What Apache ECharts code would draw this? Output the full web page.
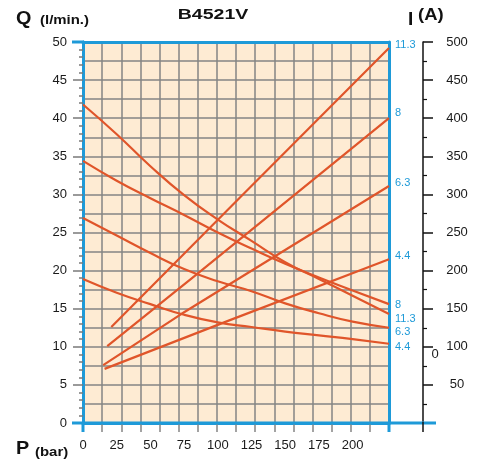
<!DOCTYPE html>
<html>
<head>
<meta charset="utf-8">
<script src="https://cdn.jsdelivr.net/npm/echarts@6/dist/echarts.min.js"></script>
<style>
html, body { margin: 0; padding: 0; background: #fff; }
#chart { width: 484px; height: 464px; }
</style>
</head>
<body>
<div id="chart"></div>
<script>
// flow curves Q (l/min) against pressure P (bar)
const pressure = [0, 25, 50, 75, 100, 125, 150, 175, 200, 227];
const flow113 = [41.8, 37.9, 33.7, 29.9, 26.7, 23.9, 21.1, 18.9, 16.7, 14.3];
const flow8 = [34.4, 31.8, 29.5, 27.3, 25.0, 22.9, 20.9, 19.1, 17.4, 15.6];
const flow63 = [26.9, 24.6, 22.3, 20.2, 18.6, 17.3, 15.7, 14.4, 13.3, 12.5];
const flow44 = [18.9, 17.1, 15.6, 14.2, 13.2, 12.6, 12.0, 11.5, 11.0, 10.4];

// current curves I (A) as [P, I]
const current113 = [[21, 126], [117, 297], [227, 492]];
const current8 = [[18, 101], [85, 196], [227, 400]];
const current63 = [[15, 76], [72, 142], [227, 311]];
const current44 = [[16, 71], [109, 135], [227, 215]];

const curveLabels = ['11.3', '8', '6.3', '4.4'];

const BLUE = '#1e9ad8';
const RED = '#e0552a';
const GRIDC = '#858585';
const FONT = 'Liberation Sans, Arial, sans-serif';

const chart = echarts.init(document.getElementById('chart'));

function curve(name, data, yIdx, dy) {
    return {
        name: name,
        type: 'line',
        xAxisIndex: 0,
        yAxisIndex: yIdx,
        data: data,
        smooth: yIdx === 0,
        symbol: 'none',
        lineStyle: { color: RED, width: 2.2 },
        z: 3,
        endLabel: {
            show: true,
            formatter: name,
            color: BLUE,
            fontSize: 11,
            fontFamily: FONT,
            distance: 6,
            offset: [0, dy]
        }
    };
}

const pairs = arr => pressure.map((p, i) => [p, arr[i]]);

function label(text, x, y, size, sx, align) {
    return {
        type: 'text', x: x, y: y, scaleX: sx,
        style: { text: text, fill: '#111', font: 'bold ' + size + 'px ' + FONT, textAlign: align || 'left', textVerticalAlign: 'middle' }
    };
}

chart.setOption({
    animation: false,
    grid: { left: 83, right: 95, top: 42, bottom: 41, show: true, backgroundColor: '#feebd3', borderWidth: 0 },
    xAxis: [
        {
            type: 'value', min: 0, max: 227, interval: 25, position: 'bottom',
            axisLine: { onZero: false, lineStyle: { color: BLUE, width: 3 } },
            axisTick: { show: false },
            splitLine: { show: false },
            axisLabel: {
                margin: 16, color: '#1a1a1a', fontSize: 13, fontFamily: FONT,
                showMaxLabel: false,
                formatter: v => (v > 200 ? '' : v)
            }
        },
        {
            type: 'value', min: 0, max: 16, interval: 1, position: 'bottom',
            axisLine: { show: false, onZero: false },
            axisTick: { show: true, length: 9, lineStyle: { color: GRIDC, width: 1.5 } },
            axisLabel: { show: false },
            splitLine: { show: true, showMinLine: false, showMaxLine: false, lineStyle: { color: GRIDC, width: 1.5 } }
        },
        {
            type: 'value', min: 0, max: 1, position: 'top',
            axisLine: { onZero: false, lineStyle: { color: BLUE, width: 3 } },
            axisTick: { show: false }, axisLabel: { show: false }, splitLine: { show: false }
        }
    ],
    yAxis: [
        {
            type: 'value', min: 0, max: 50, interval: 5, position: 'left',
            axisLine: { onZero: false, lineStyle: { color: BLUE, width: 3 } },
            axisTick: { show: true, length: 10, lineStyle: { color: '#7a7a7a', width: 1.5 } },
            minorTick: { show: true, splitNumber: 5, length: 4, lineStyle: { color: '#7a7a7a', width: 1.5 } },
            splitLine: { show: false },
            axisLabel: { margin: 16, color: '#1a1a1a', fontSize: 13, fontFamily: FONT }
        },
        {
            type: 'value', min: 0, max: 500, interval: 50, position: 'right', offset: 34,
            axisLine: { show: true, onZero: false, lineStyle: { color: '#111', width: 1.5 } },
            axisTick: { show: true, length: 10, lineStyle: { color: '#111', width: 1.5 } },
            minorTick: { show: true, splitNumber: 2, length: 4, lineStyle: { color: '#111', width: 1.2 } },
            splitLine: { show: false },
            axisLabel: { margin: 34, align: 'center', color: '#1a1a1a', fontSize: 13, fontFamily: FONT, showMinLabel: false }
        },
        {
            type: 'value', min: 0, max: 20, interval: 1, position: 'left',
            axisLine: { show: false, onZero: false }, axisTick: { show: false }, axisLabel: { show: false },
            splitLine: { show: true, showMinLine: false, showMaxLine: false, lineStyle: { color: GRIDC, width: 1.5 } }
        },
        {
            type: 'value', min: 0, max: 1, position: 'right', offset: 0,
            axisLine: { show: true, onZero: false, lineStyle: { color: BLUE, width: 3 } },
            axisTick: { show: false }, axisLabel: { show: false }, splitLine: { show: false }
        }
    ],
    series: [
        curve(curveLabels[0], current113, 1, -3),
        curve(curveLabels[1], current8, 1, -5),
        curve(curveLabels[2], current63, 1, -3),
        curve(curveLabels[3], current44, 1, -3),
        curve(curveLabels[1], pairs(flow8), 0, 1),
        curve(curveLabels[0], pairs(flow113), 0, 5),
        curve(curveLabels[2], pairs(flow63), 0, 4),
        curve(curveLabels[3], pairs(flow44), 0, 3)
    ],
    graphic: [
        { type: 'line', z: 10, shape: { x1: 72, y1: 423, x2: 436, y2: 423 }, style: { stroke: BLUE, lineWidth: 3 } },
        { type: 'line', z: 10, shape: { x1: 72, y1: 42, x2: 84, y2: 42 }, style: { stroke: BLUE, lineWidth: 3 } },
        { type: 'line', z: 10, shape: { x1: 83, y1: 423, x2: 83, y2: 432 }, style: { stroke: BLUE, lineWidth: 3 } },
        { type: 'line', z: 10, shape: { x1: 389, y1: 423, x2: 389, y2: 432 }, style: { stroke: BLUE, lineWidth: 3 } },
        { type: 'line', z: 10, shape: { x1: 423, y1: 422, x2: 423, y2: 432 }, style: { stroke: '#111', lineWidth: 1.5 } },
        { type: 'text', x: 435, y: 354, style: { text: '0', fill: '#1a1a1a', font: '13px ' + FONT, textAlign: 'center', textVerticalAlign: 'middle' } },
        label('B4521V', 213, 15, 15, 1.3, 'center'),
        label('Q', 16, 19, 18, 1.1),
        label('(l/min.)', 40, 20, 13, 1.15),
        label('I', 408, 20, 19, 1),
        label('(A)', 418, 16, 16, 1.15),
        label('P', 16, 449, 18, 1.1),
        label('(bar)', 35, 452, 13, 1.15)
    ]
});

window.addEventListener('resize', () => chart.resize());
</script>
</body>
</html>
